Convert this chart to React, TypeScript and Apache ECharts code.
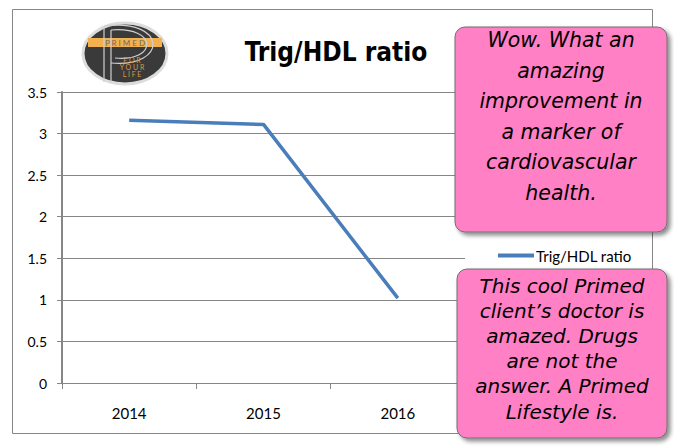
import React, { useEffect, useRef } from "react";
import * as echarts from "echarts";

// Chart data
const years = ["2014", "2015", "2016"];
const ratioValues = [3.16, 3.11, 1.02];
const seriesName = "Trig/HDL ratio";
const chartTitle = "Trig/HDL ratio";

// Callout notes
const noteTop = ["Wow. What an", "amazing", "improvement in", "a marker of", "cardiovascular", "health."];
const noteBottom = [
  "This cool Primed",
  "client\u2019s doctor is",
  "amazed. Drugs",
  "are not the",
  "answer. A Primed",
  "Lifestyle is.",
];

const GRAY = "#868686";
const LINE_BLUE = "#4a7ebb";
const PINK = "#ff80c4";
const NOTE_FONT = '"DejaVu Sans", "Noto Sans", sans-serif';
const LABEL_FONT = 'Lato, "Liberation Sans", sans-serif';

function noteBox(x: number, y: number, w: number, h: number) {
  return {
    type: "rect",
    z: 20,
    shape: { x, y, width: w, height: h, r: 10 },
    style: {
      fill: PINK,
      stroke: "#6f6f6f",
      lineWidth: 1,
      shadowBlur: 4,
      shadowOffsetX: 3,
      shadowOffsetY: 3,
      shadowColor: "rgba(0,0,0,0.45)",
    },
  };
}

function noteText(lines: string[], x: number, y: number, size: number, lh: number) {
  return {
    type: "text",
    z: 21,
    x,
    y,
    style: {
      text: lines.join("\n"),
      align: "center",
      verticalAlign: "top",
      fontFamily: NOTE_FONT,
      fontStyle: "italic",
      fontSize: size,
      lineHeight: lh,
      fill: "#000",
    },
  };
}

function logo() {
  const cx = 125;
  const cy = 53.5;
  return {
    type: "group",
    z: 10,
    children: [
      {
        type: "ellipse",
        shape: { cx, cy, rx: 42, ry: 30.5 },
        style: { fill: "#3a3a3a", stroke: "#dcdcdc", lineWidth: 3 },
      },
      {
        type: "rect",
        shape: { x: 88, y: 38, width: 74, height: 9 },
        style: { fill: "#f2b04f" },
      },
      {
        type: "text",
        x: cx,
        y: 42.8,
        style: {
          text: "P R I M E D",
          align: "center",
          verticalAlign: "middle",
          fontSize: 8,
          fontFamily: LABEL_FONT,
          fill: "#6a6a6a",
        },
      },
      // stylised "P"
      {
        type: "line",
        shape: { x1: 104, y1: 26, x2: 104, y2: 82 },
        style: { stroke: "#d0d0d0", lineWidth: 1.2 },
      },
      {
        type: "line",
        shape: { x1: 111, y1: 30, x2: 111, y2: 83 },
        style: { stroke: "#d0d0d0", lineWidth: 1.2 },
      },
      {
        type: "bezierCurve",
        shape: { x1: 104, y1: 26, cpx1: 168, cpy1: 18, cpx2: 168, cpy2: 68, x2: 111, y2: 63 },
        style: { stroke: "#d0d0d0", lineWidth: 1.2, fill: null },
      },
      {
        type: "bezierCurve",
        shape: { x1: 111, y1: 30, cpx1: 158, cpy1: 26, cpx2: 158, cpy2: 62, x2: 115, y2: 58 },
        style: { stroke: "#d0d0d0", lineWidth: 1.2, fill: null },
      },
      {
        type: "text",
        x: 132,
        y: 56,
        style: {
          text: "F O R\nY O U R\nL I F E",
          align: "center",
          verticalAlign: "top",
          fontSize: 7,
          lineHeight: 7,
          fontFamily: LABEL_FONT,
          fill: "#d99a45",
        },
      },
    ],
  };
}

export default function App() {
  const ref = useRef<HTMLDivElement>(null);

  useEffect(() => {
    if (!ref.current) return;
    const chart = echarts.init(ref.current, null, { renderer: "svg" });
    chart.setOption({
      animation: false,
      backgroundColor: "#ffffff",
      title: {
        text: chartTitle,
        left: 331,
        top: 34,
        textAlign: "center",
        textStyle: {
          fontFamily: '"Liberation Sans Narrow", "DejaVu Sans Condensed", Lato, sans-serif',
          fontWeight: "bold",
          fontSize: 26,
          color: "#000",
        },
      },
      legend: {
        left: 493,
        top: 243,
        icon: "rect",
        itemWidth: 36,
        itemHeight: 4,
        data: [seriesName],
        textStyle: { fontFamily: LABEL_FONT, fontSize: 15, color: "#000", padding: [0, 0, 0, -3] },
      },
      grid: { left: 62, right: 209, top: 92, bottom: 65, containLabel: false },
      xAxis: {
        type: "category",
        data: years,
        boundaryGap: true,
        axisLine: { lineStyle: { color: GRAY, width: 1 } },
        axisTick: { show: true, length: 6, lineStyle: { color: GRAY } },
        axisLabel: { margin: 22, fontFamily: LABEL_FONT, fontSize: 15, color: "#000" },
      },
      yAxis: {
        type: "value",
        min: 0,
        max: 3.5,
        interval: 0.5,
        axisLine: { show: true, lineStyle: { color: GRAY, width: 2 } },
        axisTick: { show: true, length: 5, lineStyle: { color: GRAY } },
        axisLabel: { margin: 15, fontFamily: LABEL_FONT, fontSize: 14, color: "#000" },
        splitLine: { lineStyle: { color: GRAY, width: 1 } },
      },
      series: [
        {
          name: seriesName,
          type: "line",
          data: ratioValues,
          showSymbol: false,
          symbol: "none",
          lineStyle: { color: LINE_BLUE, width: 3.5 },
          itemStyle: { color: LINE_BLUE },
        },
      ],
      graphic: [
        {
          type: "rect",
          z: 0,
          silent: true,
          shape: { x: 12.5, y: 9.5, width: 640, height: 424 },
          style: { fill: null, stroke: GRAY, lineWidth: 1 },
        },
        logo(),
        noteBox(455, 27, 212, 205),
        noteText(noteTop, 561, 25, 20.5, 30.5),
        noteBox(457, 269, 210, 169),
        noteText(noteBottom, 562, 273, 20, 25.2),
      ],
    });
    return () => chart.dispose();
  }, []);

  return (
    <div
      ref={ref}
      style={{ position: "absolute", left: 0, top: 0, width: 674, height: 448 }}
    />
  );
}
